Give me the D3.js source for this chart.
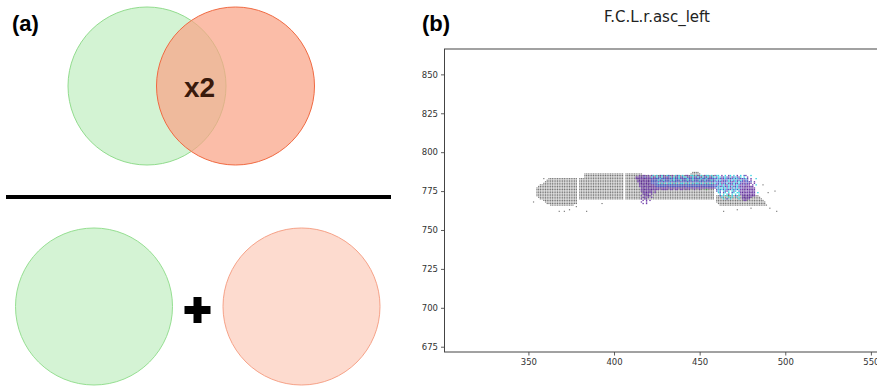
<!DOCTYPE html>
<html>
<head>
<meta charset="utf-8">
<script src="https://cdn.jsdelivr.net/npm/d3@7"></script>
<style>
  body { margin: 0; background: #fff; }
  svg { display: block; }
</style>
</head>
<body>
<svg id="chart" width="877" height="389"></svg>
<script>
// ---- data (panel b) ----
const xTicks = [350, 400, 450, 500, 550];
const yTicks = [675, 700, 725, 750, 775, 800, 825, 850];
const chartTitle = 'F.C.L.r.asc_left';

// gray voxels, one entry per row: [y, [[xStart, xEnd], ...]]
const grayRows = [
  [787, [[446, 449]]],
  [786, [[383, 416], [445, 450]]],
  [785, [[383, 459]]],
  [784, [[383, 459]]],
  [783, [[362, 459]]],
  [782, [[361, 459]]],
  [781, [[360, 459]]],
  [780, [[359, 459]]],
  [779, [[357, 459]]],
  [778, [[356, 459]]],
  [777, [[355, 459]]],
  [776, [[355, 459]]],
  [775, [[355, 459]]],
  [774, [[355, 459]]],
  [773, [[355, 459]]],
  [772, [[355, 484]]],
  [771, [[356, 485]]],
  [770, [[357, 486]]],
  [769, [[359, 379], [460, 487]]],
  [768, [[360, 379], [460, 488]]],
  [767, [[361, 378], [461, 488]]],
  [766, [[363, 376], [462, 489]]]
];
const grayGapCols = [379, 406, 459];
const grayStray = [
  [353, 768], [359, 783], [368, 762], [371, 762], [374, 763], [378, 765],
  [384, 762], [393, 767], [494, 775], [487, 779], [464, 762], [472, 763],
  [480, 764], [491, 764], [495, 762], [490, 774]
];

// coloured voxels, rows of codes starting at colorStartX
const colorStartX = 413;
const colorRows = [
  [785, '..p.pp.p.pc.' + 'c.pcp.cb.p.cpc.c.pp.cc.cp.c.pcc.c.p' + 'cc.p.c.pc.c.p.c.bp..c........'],
  [784, 'pppdpbpppcpp' + 'cbpcpbpbcpcpbcpbccpbpcbpcbpcbpcpbcc' + 'pccpbcbpcpbcbpc.c.p..........'],
  [783, 'pdpppdpppbpb' + 'bbcbbbpbbbcbbcbpbbcbbcbbbbcbbcbpbbb' + 'bcbpbcbbpbcbcbpbbcp.p..c.....'],
  [782, '.pdpdppdpbbb' + 'bcbbcbbbcbcbbbcbbbcbbcbbbcbbcbbbcbb' + 'cbcbpbbcbcbcbbcbpbb.p........'],
  [781, '.ppdpppdpbbb' + 'llllbllllllbllllllblllllllbllllllbll' + 'bbpbblcbpbcbcbbpbbpb.p.......'],
  [780, '..pdppdpplll' + 'lc.c.c.cc.c.c.cc.c.c.c.cc.c.c.c.c.c' + 'lbcplbcpbbcbpcbpppbpp.p......'],
  [779, '..ppdppdpppb' + 'bbbbbbbbbbbbbbbbbbbbbbbbbbbbbbbbbbb' + 'pbcbcpbcbpcbcbppbdpp.p.c.....'],
  [778, '..pppdppdppp' + 'bbbbbbpbbbbbbbbbpbbbbbbbbbpbbbbbbbb' + 'bcpbcbpcbcpbcbpppdppdp.......'],
  [777, '...pdppdpppp' + 'ppppppppppppppppppppppppppppppppppp' + 'cbccbcbcpbcbcpbpddppdpp......'],
  [776, '...ppdpppdpp' + 'pp.pppp.pp.pp.pp.p.p..p..p...g.....' + 'pcbcbcbbpcbcbcppdpdpdpp......'],
  [775, '...pdpppdp.p' + '...................................' + 'bcb.cbpc.cbc.bppdppdpdp......'],
  [774, '....ppdppp.p' + '...................................' + '.cb.pc.c.bc.ccpdpdppdpp.c...'],
  [773, '....pdpp.p..' + '...................................' + '..c.c.cp.c.c.cppdppdpdp.....'],
  [772, '...p.ppdp...' + '...................................' + '..b.c.cg.c.b.c.pdpdppdp......'],
  [771, '....pp.p.p..' + '...................................' + '...c...c.c..c..pdppdp.......'],
  [770, '...p.pp.....' + '...................................' + '....c.b.c....c.ppdpp.........'],
  [769, '....p.p.p...' + '...................................' + '................pp...........'],
  [768, '...p..p.....'],
  [767, '....p.p.....']
];
const colorCodes = {
  p: '#7342ab',
  d: '#5a2a92',
  b: '#4a58c6',
  l: '#6470d2',
  c: '#33d3e0',
  g: '#3f9f4a'
};

const svg = d3.select('#chart');

// ---- panel (a): venn sketch ----
const pa = svg.append('g');

pa.append('text')
  .attr('x', 12).attr('y', 31)
  .style('font-family', 'Liberation Sans, Arial, sans-serif')
  .style('font-weight', 'bold')
  .style('font-size', '22px')
  .text('(a)');

pa.append('circle')
  .attr('cx', 147).attr('cy', 86).attr('r', 79)
  .attr('fill', '#d3f3d3')
  .attr('stroke', '#92dc8e').attr('stroke-width', 1);
pa.append('circle')
  .attr('cx', 235.5).attr('cy', 86).attr('r', 79)
  .attr('fill', '#f9a486').attr('fill-opacity', 0.72)
  .attr('stroke', '#f06a42').attr('stroke-width', 1);

pa.append('text')
  .attr('x', 199.5).attr('y', 97)
  .attr('text-anchor', 'middle')
  .style('font-family', 'Liberation Sans, Arial, sans-serif')
  .style('font-weight', 'bold')
  .style('font-size', '28px')
  .style('fill', '#3a1a0c')
  .text('x2');

pa.append('rect')
  .attr('x', 6).attr('y', 195).attr('width', 385).attr('height', 4)
  .attr('fill', '#000');

pa.append('circle')
  .attr('cx', 94).attr('cy', 306.5).attr('r', 78.5)
  .attr('fill', '#d4f3d4')
  .attr('stroke', '#96df92').attr('stroke-width', 1);
pa.append('circle')
  .attr('cx', 301.5).attr('cy', 306.5).attr('r', 78.5)
  .attr('fill', '#fddbcf')
  .attr('stroke', '#f6a288').attr('stroke-width', 1);

// plus sign
pa.append('rect').attr('x', 184.5).attr('y', 306).attr('width', 26).attr('height', 8).attr('fill', '#000');
pa.append('rect').attr('x', 193.5).attr('y', 297).attr('width', 8).attr('height', 26).attr('fill', '#000');

// ---- panel (b): scatter ----
svg.append('text')
  .attr('x', 422).attr('y', 31)
  .style('font-family', 'Liberation Sans, Arial, sans-serif')
  .style('font-weight', 'bold')
  .style('font-size', '22px')
  .text('(b)');

const axL = 444.5, axR = 900, axT = 49, axB = 352;

const x = d3.scaleLinear().domain([301, 567]).range([axL, axR]);
const y = d3.scaleLinear().domain([671.6, 866.3]).range([axB, axT]);

svg.append('text')
  .attr('x', 657).attr('y', 22)
  .attr('text-anchor', 'middle')
  .style('font-family', 'DejaVu Sans, sans-serif')
  .style('font-size', '15px')
  .style('fill', '#222')
  .text(chartTitle);

const plot = svg.append('g');

// gray points
const grayPts = [];
grayRows.forEach(function(r) {
  r[1].forEach(function(seg) {
    for (let xi = seg[0]; xi <= seg[1]; xi++) {
      if (grayGapCols.indexOf(xi) < 0) grayPts.push([xi, r[0]]);
    }
  });
});
grayStray.forEach(function(p) { grayPts.push(p); });

plot.selectAll('rect.gray')
  .data(grayPts)
  .enter().append('rect')
  .attr('class', 'gray')
  .attr('x', function(d) { return x(d[0]) - 0.6; })
  .attr('y', function(d) { return y(d[1]) - 0.55; })
  .attr('width', 1.2)
  .attr('height', 1.1)
  .attr('fill', '#747474');

// coloured points
const colPts = [];
colorRows.forEach(function(r) {
  const s = r[1];
  for (let i = 0; i < s.length; i++) {
    if (colorCodes[s[i]]) colPts.push([colorStartX + i, r[0], colorCodes[s[i]]]);
  }
});

plot.selectAll('rect.col')
  .data(colPts)
  .enter().append('rect')
  .attr('class', 'col')
  .attr('x', function(d) { return x(d[0]) - 0.7; })
  .attr('y', function(d) { return y(d[1]) - 0.65; })
  .attr('width', 1.4)
  .attr('height', 1.3)
  .attr('fill', function(d) { return d[2]; });

// axes
const xAxis = svg.append('g')
  .attr('transform', 'translate(0,' + axB + ')')
  .call(d3.axisBottom(x).tickValues(xTicks).tickSize(3.5).tickSizeOuter(0).tickPadding(3));
const yAxis = svg.append('g')
  .attr('transform', 'translate(' + axL + ',0)')
  .call(d3.axisLeft(y).tickValues(yTicks).tickSize(3.5).tickSizeOuter(0).tickPadding(3));

[xAxis, yAxis].forEach(function(a) {
  a.select('.domain').remove();
  a.selectAll('line').attr('stroke', '#333').attr('stroke-width', 0.8);
  a.selectAll('text')
    .style('font-family', 'DejaVu Sans, sans-serif')
    .style('font-size', '8.5px')
    .style('fill', '#333');
});

// spines
svg.append('rect')
  .attr('x', axL).attr('y', axT)
  .attr('width', axR - axL).attr('height', axB - axT)
  .attr('fill', 'none')
  .attr('stroke', '#444')
  .attr('stroke-width', 1);
</script>
</body>
</html>
